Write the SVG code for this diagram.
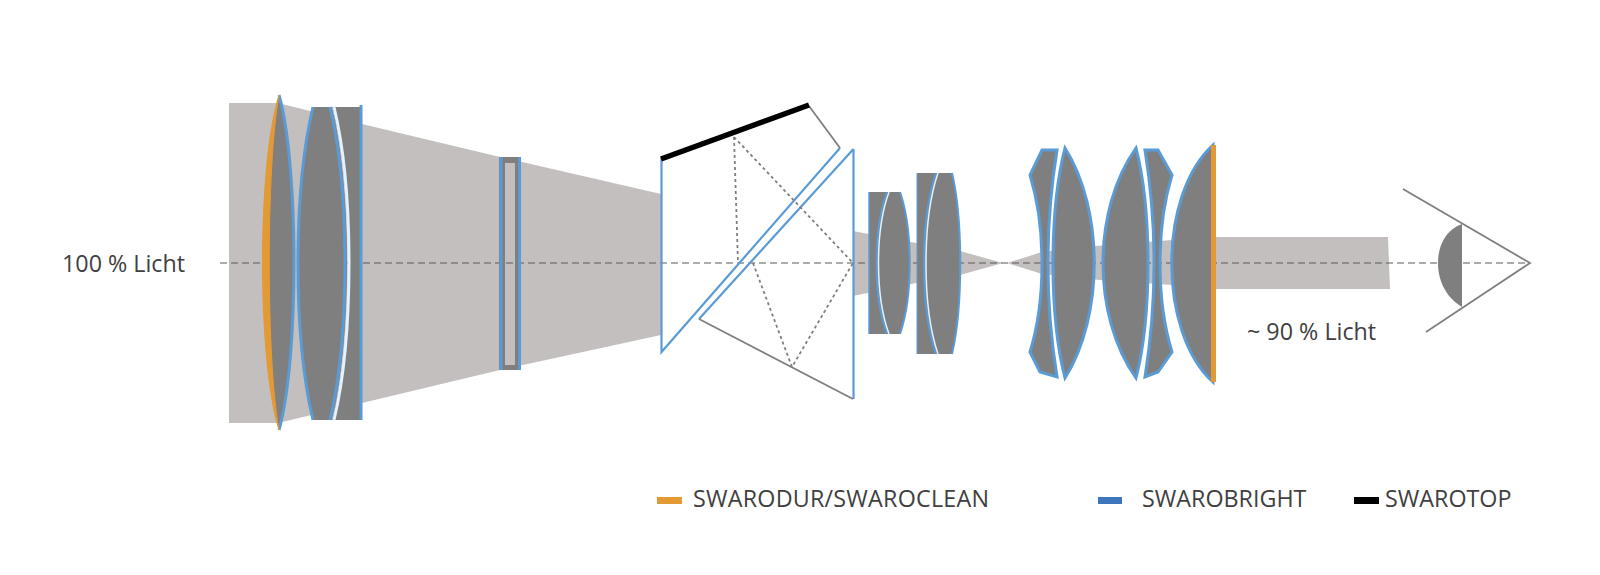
<svg xmlns="http://www.w3.org/2000/svg" width="1600" height="575" viewBox="0 0 1600 575">
<style>
text{font-family:"Open Sans","Noto Sans","Liberation Sans",sans-serif;fill:#404040;font-size:23.300px}
.beam{fill:#c3bfbf;stroke:none}
.g{fill:#7f7f7f;stroke:#5b9bd5;stroke-width:3;stroke-linejoin:miter}
.gn{fill:#7f7f7f;stroke:none}
.bl{fill:none;stroke:#5b9bd5;stroke-width:2.2}
.wh{fill:none;stroke:#e6f2fb;stroke-width:2.5}
.gl{fill:none;stroke:#7f7f7f;stroke-width:1.8}
.dot{fill:none;stroke:#7f7f7f;stroke-width:1.8;stroke-dasharray:3 3}
.axis{fill:none;stroke:#595959;stroke-width:1;stroke-dasharray:7 4}
</style>
<rect width="1600" height="575" fill="#fff"/>
<g id="beams">
<path class="beam" d="M229 103H278L362 124L500 157L661 194V335L500 370L362 403L278 423H229Z"/>
<path class="beam" d="M853 231L916 243L960 251L1003 263L960 275L916 283L853 296Z"/>
<path class="beam" d="M1007 263L1042 252L1095 246L1172 240V285L1100 280L1042 274Z"/>
<path class="beam" d="M1216 237H1388L1390 289H1216Z"/>
</g>
<g id="connectors">
<path class="axis" d="M220 263H1530"/>
</g>
<g id="objective-front">
<path class="gn" d="M279 95C299 165 299 360 279 430C259 360 259 165 279 95Z"/>
<path class="bl" style="stroke-width:3" d="M279 95C299 165 299 360 279 430"/>
<path d="M279 95C257 165 257 360 279 430C266 360 266 165 279 95Z" fill="#e49a34" stroke="#e49a34" stroke-width="1"/>
</g>
<g id="objective-doublet">
<path class="gn" d="M332 107H362V420H332C354 336 354 190 332 107Z"/>
<path class="gn" d="M313 107H332C352 190 352 336 332 420H313C293 336 293 190 313 107Z"/>
<path class="bl" style="stroke-width:3" d="M313 107C293 190 293 336 313 420M330 107C350 190 350 336 330 420"/>
<path class="wh" style="stroke-width:3" d="M334 107C354 190 354 336 334 420"/>
<path class="bl" d="M361 105V420" style="stroke-width:3"/>
</g>
<g id="plate">
<path fill-rule="evenodd" fill="#7f7f7f" d="M499 157H521V370H499ZM505 163V365H515V163Z"/>
<path class="bl" d="M501 157V370M519.500 157V370" style="stroke-width:3"/>
</g>
<g id="prism">
<path class="bl" d="M661.500 158V352L840 148"/>
<path class="bl" d="M853.500 149V399M853.500 149L699 319"/>
<path class="gl" d="M809 106L840 148M699 319L853 399"/>
<path d="M661 159L809 105" fill="none" stroke="#000" stroke-width="5.500"/>
<path class="dot" d="M734 137L738 263M734 137L853 263M753 263L792 367L853 263"/>
</g>
<g id="lens-a">
<path class="gn" d="M869 192H900C913 230 913 296 900 334H869Z"/>
<path class="bl" d="M900 192C913 230 913 296 900 334M887 192C873 230 873 296 887 334" style="stroke-width:2"/>
<path class="bl" d="M869 192V334" style="stroke-width:1.500"/>
<path class="wh" d="M889 192C875 230 875 296 889 334" style="stroke-width:1.500"/>
</g>
<g id="lens-b">
<path class="gn" d="M917 173H952C963 220 963 307 952 354H917Z"/>
<path class="bl" d="M952 173C963 220 963 307 952 354M936 173C920 220 920 307 936 354" style="stroke-width:2"/>
<path class="bl" d="M917 173V354" style="stroke-width:1"/>
<path class="wh" d="M938 173C922 220 922 307 938 354" style="stroke-width:1.500"/>
</g>
<g id="lens-c1"><path class="g" d="M1042 150H1057C1045 225 1045 302 1057 377L1040 372L1030 352C1046 300 1046 227 1030 175Z"/></g>
<g id="lens-c2"><path class="g" d="M1065 148C1104 210 1104 316 1065 378C1049 316 1049 210 1065 148Z"/></g>
<g id="lens-c3"><path class="g" d="M1136 148C1152 210 1152 316 1136 378C1092 316 1092 210 1136 148Z"/></g>
<g id="lens-c4"><path class="g" d="M1145 150H1158L1172 175C1156 227 1156 300 1172 352L1158 372L1145 377C1157 302 1157 225 1145 150Z"/></g>
<g id="lens-c5">
<path class="g" d="M1213 145C1158 195 1158 332 1213 382Z"/>
<path d="M1213.500 145V382" stroke="#e49a34" stroke-width="5" fill="none"/>
</g>
<g id="eye">
<path class="gn" d="M1462 224C1447 229 1438 244 1438 263C1438 282 1447 298 1462 307Z"/>
<path class="gl" d="M1403 189L1530 263L1426 332"/>
</g>
<g id="label-in"><text x="62" y="272">100 % Licht</text></g>
<g id="label-out"><text x="1247" y="340">~ 90 % Licht</text></g>
<g id="legend-swarodur"><rect x="657" y="497" width="25" height="7" fill="#e49a34"/><text x="693" y="507" textLength="296">SWARODUR/SWAROCLEAN</text></g>
<g id="legend-swarobright"><rect x="1098" y="497" width="24" height="7" fill="#3f75bd"/><text x="1142" y="507">SWAROBRIGHT</text></g>
<g id="legend-swarotop"><rect x="1354" y="497" width="25" height="7" fill="#000"/><text x="1385" y="507">SWAROTOP</text></g>
</svg>
